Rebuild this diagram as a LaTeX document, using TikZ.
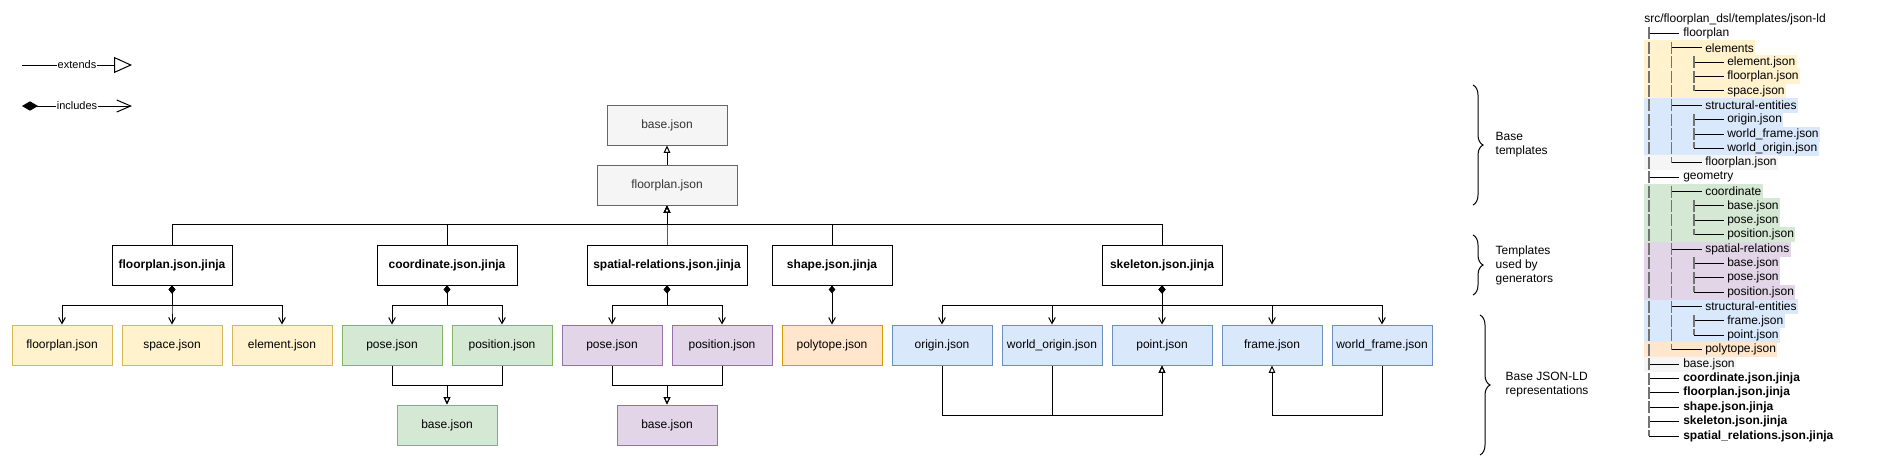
\documentclass[tikz,border=0pt]{standalone}
\usepackage{fontspec}
\setmainfont{Liberation Sans}
\usetikzlibrary{arrows.meta,decorations.pathreplacing,backgrounds}

\definecolor{yellowfill}{HTML}{FFF2CC}
\definecolor{yellowline}{HTML}{D6B656}
\definecolor{greenfill}{HTML}{D5E8D4}
\definecolor{greenline}{HTML}{82B366}
\definecolor{purplefill}{HTML}{E1D5E7}
\definecolor{purpleline}{HTML}{9673A6}
\definecolor{orangefill}{HTML}{FFE6CC}
\definecolor{orangeline}{HTML}{D79B00}
\definecolor{bluefill}{HTML}{DAE8FC}
\definecolor{blueline}{HTML}{6C8EBF}
\definecolor{grayfill}{HTML}{F5F5F5}
\definecolor{grayline}{HTML}{666666}
\definecolor{graytext}{HTML}{333333}

% one line of the folder tree: name, row, level, text, extra style
\newcommand{\treeitem}[5]{%
	\node[treetext,#5] (#1) at ({1682+22*#3},{19+14.38*#2}) {#4};
	\draw[treeline] ({1649+22.5*#3},{19+14.38*#2}) -- ++(30,0);}
% vertical bar piece: level, row, length
\newcommand{\treebar}[3]{%
	\draw[treebar] ({1649+22.5*#1},{19+14.38*#2-6}) -- ++(0,#3);}

\begin{document}
\begin{tikzpicture}[x=0.75pt,y=-0.75pt,
	every node/.style={font=\fontsize{9}{10.8}\selectfont},
	box/.style={draw, line width=0.75pt, minimum height=30pt, inner sep=0pt},
	jinja/.style={box, fill=white, font=\fontsize{9}{10.8}\selectfont\bfseries},
	basebox/.style={box, fill=grayfill, draw=grayline, text=graytext},
	yellowbox/.style={box, minimum width=75pt, fill=yellowfill, draw=yellowline},
	greenbox/.style={box, minimum width=75pt, fill=greenfill, draw=greenline},
	purplebox/.style={box, minimum width=75pt, fill=purplefill, draw=purpleline},
	orangebox/.style={box, minimum width=75pt, fill=orangefill, draw=orangeline},
	bluebox/.style={box, minimum width=75pt, fill=bluefill, draw=blueline},
	ext/.style={line width=0.75pt, -{Triangle[open,length=5.5pt,width=5pt]}},
	incl/.style={line width=0.75pt, {Diamond[length=6pt,width=5pt]}-{Straight Barb[length=4.5pt,width=5pt]}},
	treetext/.style={anchor=west, inner xsep=0.75pt, inner ysep=0pt, minimum height=10.785pt},
	treebold/.style={font=\fontsize{9}{10.8}\selectfont\bfseries},
	treeline/.style={line width=0.75pt},
	treebar/.style={line width=0.9pt, black!55},
	bracetext/.style={anchor=west, align=left, font=\fontsize{9}{10.5}\selectfont},
	legendlabel/.style={fill=white, inner sep=0.5pt, font=\fontsize{8.25}{9}\selectfont},
	curly/.style={decorate, decoration={brace, amplitude=7.5pt}, line width=0.75pt}
	]
	\useasboundingbox (0,0) rectangle (1888,461);

	% legend
	\coordinate (extA) at (22,65);
	\coordinate (extB) at (132,65);
	\coordinate (incA) at (22,106);
	\coordinate (incB) at (132,106);
	\draw[line width=0.75pt, -{Triangle[open,length=13.5pt,width=12pt]}] (extA) -- node[legendlabel] {extends} (extB);
	\draw[line width=0.75pt, {Diamond[length=12pt,width=7pt]}-{Straight Barb[length=10.5pt,width=9pt]}] (incA) -- node[legendlabel] {includes} (incB);

	% base templates
	\node[basebox, minimum width=90pt] (base) at (667,125) {base.json};
	\node[basebox, minimum width=105pt] (fplan) at (667,185) {floorplan.json};

	% templates used by generators
	\node[jinja, minimum width=90pt] (fpj) at (172,265) {floorplan.json.jinja};
	\node[jinja, minimum width=105pt] (coj) at (447,265) {coordinate.json.jinja};
	\node[jinja, minimum width=120pt] (spj) at (667,265) {spatial-relations.json.jinja};
	\node[jinja, minimum width=90pt] (shj) at (832,265) {shape.json.jinja};
	\node[jinja, minimum width=90pt] (skj) at (1162,265) {skeleton.json.jinja};

	% base JSON-LD representations
	\node[yellowbox] (fpFloorplan) at (62,345) {floorplan.json};
	\node[yellowbox] (fpSpace) at (172,345) {space.json};
	\node[yellowbox] (fpElement) at (282,345) {element.json};

	\node[greenbox] (coPose) at (392,345) {pose.json};
	\node[greenbox] (coPosition) at (502,345) {position.json};
	\node[greenbox] (coBase) at (447,425) {base.json};

	\node[purplebox] (spPose) at (612,345) {pose.json};
	\node[purplebox] (spPosition) at (722,345) {position.json};
	\node[purplebox] (spBase) at (667,425) {base.json};

	\node[orangebox] (shPolytope) at (832,345) {polytope.json};

	\node[bluebox] (skOrigin) at (942,345) {origin.json};
	\node[bluebox] (skWorldOrigin) at (1052,345) {world\_origin.json};
	\node[bluebox] (skPoint) at (1162,345) {point.json};
	\node[bluebox] (skFrame) at (1272,345) {frame.json};
	\node[bluebox] (skWorldFrame) at (1382,345) {world\_frame.json};

	% extends
	\draw[ext] (fplan) -- (base);
	\foreach \j in {fpj,coj,spj,shj,skj}
		\draw[ext] (\j.north) -- ++(0,-20) -| (fplan.south);
	\draw[ext] (coPose.south) -- ++(0,20) -| (coBase.north);
	\draw[ext] (coPosition.south) -- ++(0,20) -| (coBase.north);
	\draw[ext] (spPose.south) -- ++(0,20) -| (spBase.north);
	\draw[ext] (spPosition.south) -- ++(0,20) -| (spBase.north);
	\draw[ext] (skOrigin.south) -- ++(0,50) -| (skPoint.south);
	\draw[ext] (skWorldOrigin.south) -- ++(0,50) -| (skPoint.south);
	\draw[ext] (skWorldFrame.south) -- ++(0,50) -| (skFrame.south);

	% includes
	\foreach \c in {fpFloorplan,fpSpace,fpElement}
		\draw[incl] (fpj.south) -- ++(0,20) -| (\c.north);
	\foreach \c in {coPose,coPosition}
		\draw[incl] (coj.south) -- ++(0,20) -| (\c.north);
	\foreach \c in {spPose,spPosition}
		\draw[incl] (spj.south) -- ++(0,20) -| (\c.north);
	\draw[incl] (shj.south) -- (shPolytope.north);
	\foreach \c in {skOrigin,skWorldOrigin,skPoint,skFrame,skWorldFrame}
		\draw[incl] (skj.south) -- ++(0,20) -| (\c.north);

	% braces
	\draw[curly] (1473,85) -- (1473,205);
	\draw[curly] (1473,235) -- (1473,295);
	\draw[curly] (1480,315) -- (1480,455);
	\node[bracetext] (lbBase) at (1491,145) {Base\\templates};
	\node[bracetext] (lbGen) at (1491,265) {Templates\\used by\\generators};
	\node[bracetext] (lbJson) at (1501,385) {Base JSON-LD\\representations};

	% folder tree
	\coordinate (hlx) at (1644,0);
	\node[treetext] (t0) at (1643,19) {src/floorplan\_dsl/templates/json-ld};
	\treeitem{t1}{1}{0}{floorplan}{}
	\treeitem{t2}{2}{1}{elements}{}
	\treeitem{t3}{3}{2}{element.json}{}
	\treeitem{t4}{4}{2}{floorplan.json}{}
	\treeitem{t5}{5}{2}{space.json}{}
	\treeitem{t6}{6}{1}{structural-entities}{}
	\treeitem{t7}{7}{2}{origin.json}{}
	\treeitem{t8}{8}{2}{world\_frame.json}{}
	\treeitem{t9}{9}{2}{world\_origin.json}{}
	\treeitem{t10}{10}{1}{floorplan.json}{}
	\treeitem{t11}{11}{0}{geometry}{}
	\treeitem{t12}{12}{1}{coordinate}{}
	\treeitem{t13}{13}{2}{base.json}{}
	\treeitem{t14}{14}{2}{pose.json}{}
	\treeitem{t15}{15}{2}{position.json}{}
	\treeitem{t16}{16}{1}{spatial-relations}{}
	\treeitem{t17}{17}{2}{base.json}{}
	\treeitem{t18}{18}{2}{pose.json}{}
	\treeitem{t19}{19}{2}{position.json}{}
	\treeitem{t20}{20}{1}{structural-entities}{}
	\treeitem{t21}{21}{2}{frame.json}{}
	\treeitem{t22}{22}{2}{point.json}{}
	\treeitem{t23}{23}{1}{polytope.json}{}
	\treeitem{t24}{24}{0}{base.json}{}
	\treeitem{t25}{25}{0}{coordinate.json.jinja}{treebold}
	\treeitem{t26}{26}{0}{floorplan.json.jinja}{treebold}
	\treeitem{t27}{27}{0}{shape.json.jinja}{treebold}
	\treeitem{t28}{28}{0}{skeleton.json.jinja}{treebold}
	\treeitem{t29}{29}{0}{spatial\_relations.json.jinja}{treebold}

	\foreach \r in {1,...,28} {\treebar{0}{\r}{12}}
	\treebar{0}{29}{6}
	\foreach \r in {2,...,9} {\treebar{1}{\r}{12}}
	\foreach \r in {12,...,22} {\treebar{1}{\r}{12}}
	\foreach \r in {10,23} {\treebar{1}{\r}{6}}
	\foreach \r in {3,4,7,8,13,14,17,18,21} {\treebar{2}{\r}{12}}
	\foreach \r in {5,9,15,19,22} {\treebar{2}{\r}{6}}

	\begin{pgfonlayer}{background}
		\foreach \n in {t2,t3,t4,t5}
			\fill[yellowfill] (hlx |- \n.north) rectangle (\n.south east);
		\foreach \n in {t6,t7,t8,t9,t20,t21,t22}
			\fill[bluefill] (hlx |- \n.north) rectangle (\n.south east);
		\foreach \n in {t12,t13,t14,t15}
			\fill[greenfill] (hlx |- \n.north) rectangle (\n.south east);
		\foreach \n in {t16,t17,t18,t19}
			\fill[purplefill] (hlx |- \n.north) rectangle (\n.south east);
		\foreach \n in {t10,t24}
			\fill[grayfill] (hlx |- \n.north) rectangle (\n.south east);
		\fill[orangefill] (hlx |- t23.north) rectangle (t23.south east);
	\end{pgfonlayer}
\end{tikzpicture}
\end{document}
